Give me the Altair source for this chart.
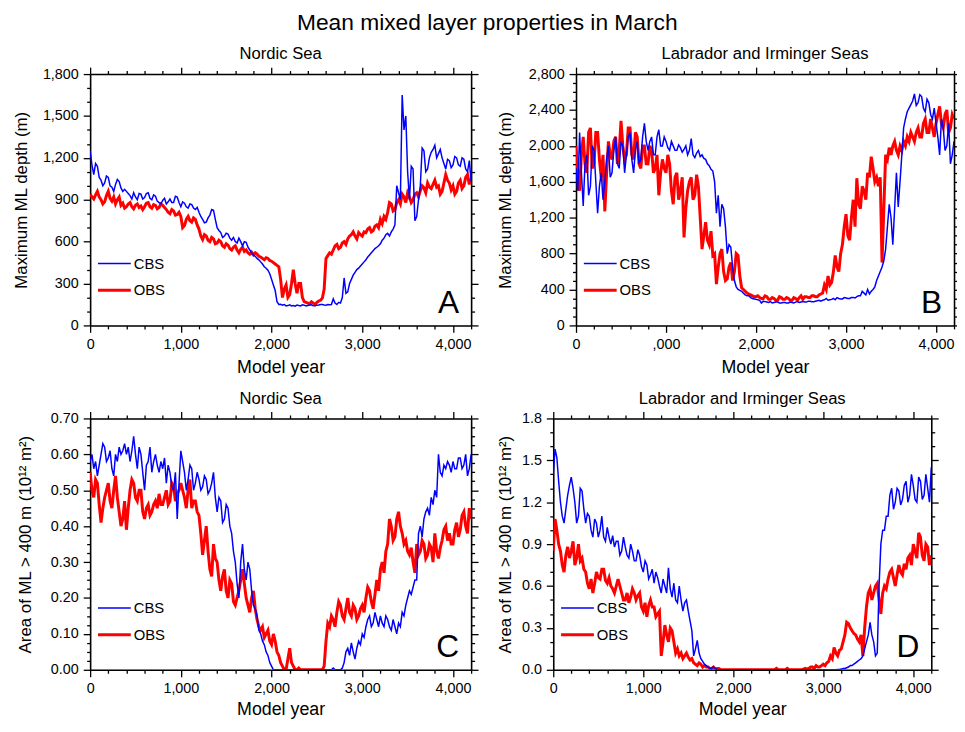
import altair as alt
import pandas as pd

FONT = "Liberation Sans"
WA, WB, H = 385, 382, 254

YEARS = list(range(0, 4201, 20))
SERIES = ["CBS", "OBS"]
COLORS = ["#0000ff", "#ff0000"]
LINE_WIDTHS = [1.5, 3.0]

SUPTITLE = "Mean mixed layer properties in March"
PANEL_TITLES = ["Nordic Sea", "Labrador and Irminger Seas", "Nordic Sea", "Labrador and Irminger Seas"]
Y_TITLES = ["Maximum ML depth (m)", "Maximum ML depth (m)",
            "Area of ML > 400 m (10¹² m²)", "Area of ML > 400 m (10¹² m²)"]
LETTERS = ["A", "B", "C", "D"]
X_TITLE = "Model year"
X_MAJOR = [0, 1000, 2000, 3000, 4000]
X_MINOR = [200, 400, 600, 800, 1200, 1400, 1600, 1800, 2200, 2400, 2600, 2800,
           3200, 3400, 3600, 3800, 4200]

# values every 20 model years, 0 .. 4200 (20 values per line = 400 years)
A_CBS = [1250, 1150, 1080, 1160, 1140, 1060, 1040, 1000, 1020, 1070, 1060, 1000, 990, 960, 1010, 1045, 1030, 985, 960, 975,
         960, 945, 930, 905, 950, 920, 900, 945, 940, 905, 915, 945, 950, 910, 900, 935, 925, 890, 880, 870,
         895, 910, 870, 885, 905, 880, 880, 925, 920, 880, 850, 885, 875, 850, 840, 870, 865, 840, 830, 845,
         810, 780, 760, 735, 740, 770, 790, 830, 825, 760, 700, 680, 665, 630, 640, 660, 655, 625, 610, 630,
         600, 590, 625, 600, 570, 600, 595, 560, 540, 520, 505, 495, 480, 470, 455, 440, 420, 410, 395, 370,
         330, 290, 250, 170, 150, 152, 145, 150, 140, 142, 148, 140, 142, 138, 146, 143, 140, 148, 145, 140,
         143, 146, 148, 140, 140, 145, 146, 150, 150, 146, 145, 150, 148, 150, 190, 160, 150, 165, 160, 200,
         340, 230, 240, 300, 330, 360, 380, 400, 410, 425, 440, 455, 470, 490, 505, 520, 535, 550, 560, 570,
         585, 610, 625, 650, 660, 640, 670, 690, 720, 1000, 950, 900, 1650, 1400, 1500, 1100, 900, 1140, 1120, 750,
         780, 900, 1000, 1270, 1250, 1100, 1120, 1200, 1240, 1260, 1290, 1200, 1230, 1260, 1200, 1160, 1120, 1190, 1180, 1130,
         1150, 1210, 1200, 1150, 1140, 1200, 1190, 1120, 1100, 1180, 1030]
A_OBS = [940, 920, 905, 935, 960, 920, 900, 870, 885, 930, 960, 910, 890, 920, 870, 900, 920, 860, 875, 840,
         850, 870, 880, 850, 835, 860, 870, 845, 855, 830, 850, 875, 880, 850, 840, 865, 860, 835, 845, 870,
         860, 845, 830, 810, 800, 830, 820, 790, 795, 810, 780, 700, 715, 760, 780, 750, 740, 770, 760, 720,
         690, 640, 615, 650, 640, 610, 600, 630, 620, 585, 590, 610, 600, 570, 560, 585, 575, 550, 540, 560,
         570, 540, 520, 545, 560, 530, 540, 520, 510, 525, 505, 520, 510, 495, 490, 480, 470, 485, 480, 465,
         460, 450, 440, 430, 420, 330, 200, 260, 290, 200, 220, 300, 400, 300, 230, 300, 300, 200, 170, 165,
         160, 155, 170, 160, 150, 165, 175, 180, 195, 260, 480, 500, 520, 510, 540, 570, 580, 550, 560, 590,
         600, 580, 620, 640, 650, 670, 640, 620, 665, 650, 640, 670, 665, 690, 700, 670, 680, 710, 720, 700,
         760, 730, 780, 760, 810, 880, 870, 820, 830, 880, 900, 870, 940, 920, 880, 950, 920, 880, 900, 940,
         950, 920, 965, 1000, 985, 950, 1020, 990, 980, 1010, 1040, 990, 1000, 940, 960, 1020, 1080, 1040, 1020, 970,
         1000, 940, 960, 1020, 1040, 980, 1000, 1060, 1080, 1010, 1050]
B_CBS = [1750, 1500, 2150, 1700, 1330, 1800, 1900, 1450, 1550, 2000, 1950, 1600, 1250, 1550, 1700, 1400, 1600, 1850, 2000, 1650,
         1700, 1950, 2100, 1800, 1750, 2050, 2000, 1700, 1900, 2100, 2150, 1850, 1700, 1950, 2050, 1800, 1850, 2100, 2250, 2050,
         1950, 2050, 2100, 1900, 1900, 2100, 2180, 2000, 2000, 2100, 2050, 1980, 1950, 2050, 2000, 1950, 1950, 2010, 1980, 1930,
         1960, 2000, 1900, 1950, 2080, 1900, 1870, 1920, 1950, 1880, 1900, 1860, 1850, 1800, 1780, 1740, 1720, 1600, 1250, 1450,
         1100, 1350, 1300, 1100, 800, 900, 870, 650, 500, 430, 400, 390, 380, 360, 340, 330, 330, 310, 300, 295,
         290, 285, 280, 250, 270, 265, 260, 255, 265, 250, 255, 260, 260, 250, 250, 255, 255, 250, 250, 260,
         255, 250, 260, 265, 255, 260, 265, 260, 260, 270, 270, 265, 265, 270, 275, 280, 270, 280, 285, 300,
         280, 285, 290, 300, 285, 310, 300, 295, 295, 310, 305, 300, 300, 310, 310, 305, 320, 330, 330, 380,
         360, 340, 400, 350, 380, 400, 430, 500, 550, 600, 650, 720, 850, 1100, 1350, 1200, 900, 1300, 1700, 1320,
         1600, 1900, 2200, 2300, 2380, 2420, 2460, 2500, 2580, 2450, 2480, 2570, 2550, 2420, 2380, 2520, 2480, 2350, 2300, 2420,
         2250, 2100, 1900, 2300, 2200, 1950, 2000, 2250, 1800, 1900, 2050]
B_OBS = [2000, 1700, 1500, 1900, 2100, 1800, 1700, 2150, 2200, 1750, 1800, 2150, 2150, 1850, 1650, 1900, 1270, 1700, 2050, 1900,
         1850, 2050, 2100, 1800, 1950, 2280, 2000, 1850, 1900, 2200, 2200, 1900, 1850, 2150, 2100, 1800, 1750, 2000, 2000, 1800,
         1800, 2000, 1950, 1700, 1750, 1900, 1450, 1700, 1850, 1750, 1700, 1900, 1800, 1500, 1350, 1650, 1700, 1400, 1500, 1650,
         980, 1300, 1500, 1600, 1650, 1400, 1450, 1680, 1550, 1200, 850, 1000, 1150, 950, 900, 1050, 780, 800, 460, 650,
         800, 850, 600, 500, 520, 650, 700, 500, 600, 800, 780, 550, 420, 400, 380, 360, 350, 340, 330, 320,
         320, 330, 310, 300, 300, 330, 320, 290, 290, 310, 300, 280, 280, 320, 310, 290, 290, 310, 300, 280,
         280, 310, 300, 280, 310, 330, 290, 320, 320, 310, 310, 330, 330, 320, 320, 340, 350, 360, 450, 400,
         550, 450, 480, 600, 780, 650, 600, 800, 900, 1100, 1240, 1000, 950, 1200, 1400, 1100, 1640, 1350, 1300, 1550,
         1500, 1400, 1700, 1650, 1880, 1750, 1600, 1650, 1550, 1650, 700, 1300, 1900, 1850, 1980, 1900, 2000, 2050, 1950, 1900,
         2000, 1950, 2050, 2000, 2100, 2050, 2150, 2100, 2050, 2150, 2200, 2100, 2100, 2250, 2300, 2150, 2150, 2300, 2200, 2100,
         2250, 2350, 2440, 2250, 2200, 2350, 2400, 2150, 2200, 2350, 2300]
C_CBS = [0.58, 0.60, 0.56, 0.58, 0.54, 0.57, 0.60, 0.63, 0.62, 0.58, 0.59, 0.61, 0.56, 0.54, 0.60, 0.58, 0.62, 0.60, 0.61, 0.63,
         0.60, 0.62, 0.58, 0.61, 0.65, 0.60, 0.56, 0.62, 0.60, 0.55, 0.50, 0.57, 0.58, 0.62, 0.55, 0.58, 0.60, 0.57, 0.55, 0.58,
         0.56, 0.59, 0.52, 0.57, 0.55, 0.51, 0.50, 0.55, 0.42, 0.52, 0.61, 0.58, 0.55, 0.50, 0.53, 0.57, 0.56, 0.50, 0.52, 0.55,
         0.53, 0.50, 0.51, 0.54, 0.53, 0.49, 0.50, 0.52, 0.55, 0.48, 0.44, 0.48, 0.47, 0.41, 0.42, 0.46, 0.45, 0.40, 0.38, 0.33,
         0.30, 0.24, 0.20, 0.30, 0.35, 0.28, 0.25, 0.30, 0.28, 0.22, 0.18, 0.17, 0.15, 0.11, 0.10, 0.08, 0.07, 0.05, 0.04, 0.02,
         0.01, 0.0, 0.0, 0.0, 0.0, 0.0, 0.0, 0.0, 0.0, 0.0, 0.0, 0.0, 0.0, 0.0, 0.0, 0.0, 0.0, 0.0, 0.0, 0.0,
         0.0, 0.0, 0.0, 0.0, 0.0, 0.0, 0.0, 0.0, 0.0, 0.0, 0.0, 0.0, 0.0, 0.0, 0.005, 0.0, 0.0, 0.0, 0.0, 0.005,
         0.02, 0.05, 0.06, 0.04, 0.075, 0.05, 0.03, 0.06, 0.08, 0.07, 0.10, 0.09, 0.12, 0.14, 0.15, 0.12, 0.13, 0.16, 0.14, 0.12,
         0.15, 0.13, 0.12, 0.15, 0.14, 0.12, 0.11, 0.14, 0.12, 0.10, 0.13, 0.12, 0.16, 0.15, 0.18, 0.20, 0.22, 0.21, 0.23, 0.25,
         0.25, 0.38, 0.40, 0.37, 0.42, 0.44, 0.45, 0.43, 0.48, 0.46, 0.50, 0.48, 0.60, 0.55, 0.54, 0.57, 0.56, 0.58, 0.57, 0.55,
         0.58, 0.56, 0.56, 0.59, 0.59, 0.56, 0.57, 0.60, 0.54, 0.56, 0.60]
C_OBS = [0.55, 0.50, 0.48, 0.53, 0.52, 0.46, 0.41, 0.45, 0.48, 0.50, 0.52, 0.47, 0.45, 0.50, 0.54, 0.48, 0.44, 0.40, 0.42, 0.47,
         0.39, 0.45, 0.50, 0.53, 0.52, 0.48, 0.47, 0.50, 0.50, 0.44, 0.42, 0.45, 0.46, 0.43, 0.44, 0.46, 0.47, 0.45, 0.49, 0.46,
         0.46, 0.48, 0.50, 0.46, 0.47, 0.52, 0.51, 0.47, 0.49, 0.50, 0.52, 0.50, 0.48, 0.45, 0.50, 0.53, 0.45, 0.47, 0.47, 0.44,
         0.43, 0.38, 0.32, 0.36, 0.40, 0.33, 0.28, 0.26, 0.35, 0.31, 0.30, 0.25, 0.22, 0.26, 0.28, 0.22, 0.20, 0.25, 0.24, 0.19,
         0.18, 0.20, 0.22, 0.25, 0.28, 0.24, 0.20, 0.18, 0.16, 0.20, 0.22, 0.17, 0.14, 0.12, 0.11, 0.12, 0.09, 0.10, 0.11, 0.08,
         0.07, 0.10, 0.08, 0.05, 0.04, 0.02, 0.01, 0.0, 0.0, 0.03, 0.06, 0.02, 0.01, 0.0, 0.0, 0.005, 0.0, 0.0, 0.0, 0.0,
         0.0, 0.0, 0.0, 0.0, 0.0, 0.0, 0.0, 0.0, 0.0, 0.01, 0.08, 0.13, 0.12, 0.15, 0.14, 0.12, 0.16, 0.19, 0.18, 0.15,
         0.14, 0.17, 0.20, 0.16, 0.15, 0.18, 0.17, 0.14, 0.15, 0.17, 0.18, 0.16, 0.20, 0.23, 0.22, 0.19, 0.17, 0.21, 0.25, 0.22,
         0.28, 0.30, 0.27, 0.33, 0.35, 0.42, 0.40, 0.36, 0.37, 0.42, 0.44, 0.40, 0.38, 0.35, 0.36, 0.33, 0.32, 0.34, 0.30, 0.27,
         0.35, 0.32, 0.33, 0.36, 0.35, 0.31, 0.32, 0.35, 0.34, 0.30, 0.38, 0.33, 0.31, 0.34, 0.36, 0.39, 0.40, 0.36, 0.38, 0.35,
         0.35, 0.39, 0.41, 0.37, 0.39, 0.43, 0.44, 0.40, 0.38, 0.45, 0.42]
D_CBS = [1.40, 1.58, 1.52, 1.35, 1.20, 1.10, 1.05, 1.15, 1.25, 1.32, 1.38, 1.30, 1.20, 1.05, 1.10, 1.30, 1.28, 1.15, 1.05, 1.12,
         1.10, 1.00, 0.95, 1.08, 1.05, 0.95, 1.00, 1.10, 0.95, 0.92, 1.02, 0.95, 0.90, 0.96, 0.88, 0.92, 0.92, 0.82, 0.85, 0.95,
         0.88, 0.82, 0.80, 0.90, 0.85, 0.78, 0.78, 0.86, 0.82, 0.74, 0.70, 0.78, 0.75, 0.65, 0.68, 0.72, 0.62, 0.70, 0.66, 0.60,
         0.55, 0.65, 0.60, 0.55, 0.73, 0.58, 0.52, 0.62, 0.50, 0.48, 0.60, 0.50, 0.42, 0.48, 0.50, 0.42, 0.35, 0.28, 0.10, 0.15,
         0.21, 0.12, 0.08, 0.06, 0.04, 0.03, 0.02, 0.01, 0.01, 0.02, 0.01, 0.0, 0.0, 0.0, 0.0, 0.0, 0.0, 0.0, 0.0, 0.0,
         0.0, 0.0, 0.0, 0.0, 0.0, 0.0, 0.0, 0.0, 0.0, 0.0, 0.0, 0.0, 0.0, 0.0, 0.0, 0.0, 0.0, 0.0, 0.0, 0.0,
         0.0, 0.0, 0.0, 0.0, 0.0, 0.0, 0.0, 0.0, 0.0, 0.0, 0.0, 0.0, 0.0, 0.0, 0.0, 0.0, 0.0, 0.0, 0.0, 0.0,
         0.0, 0.0, 0.0, 0.0, 0.0, 0.0, 0.0, 0.0, 0.0, 0.0, 0.0, 0.0, 0.0, 0.0, 0.0, 0.0, 0.0, 0.0, 0.002, 0.003,
         0.005, 0.01, 0.01, 0.015, 0.02, 0.03, 0.03, 0.04, 0.05, 0.06, 0.07, 0.08, 0.10, 0.15, 0.20, 0.25, 0.34, 0.25, 0.20, 0.10,
         0.12, 0.60, 0.90, 1.00, 1.00, 1.10, 1.10, 1.25, 1.30, 1.15, 1.20, 1.30, 1.28, 1.18, 1.22, 1.32, 1.35, 1.20, 1.25, 1.40,
         1.32, 1.22, 1.20, 1.38, 1.35, 1.22, 1.25, 1.40, 1.30, 1.20, 1.45]
D_OBS = [0.85, 1.08, 1.00, 0.90, 0.85, 0.75, 0.70, 0.82, 0.88, 0.80, 0.85, 0.92, 0.75, 0.80, 0.90, 0.78, 0.80, 0.72, 0.70, 0.62,
         0.58, 0.65, 0.55, 0.62, 0.70, 0.66, 0.65, 0.72, 0.72, 0.64, 0.62, 0.66, 0.60, 0.58, 0.55, 0.60, 0.65, 0.60, 0.55, 0.50,
         0.50, 0.55, 0.48, 0.52, 0.58, 0.55, 0.50, 0.53, 0.55, 0.45, 0.42, 0.48, 0.38, 0.46, 0.50, 0.45, 0.45, 0.38, 0.40, 0.42,
         0.10, 0.20, 0.32, 0.25, 0.20, 0.30, 0.28, 0.20, 0.12, 0.15, 0.10, 0.12, 0.08, 0.10, 0.12, 0.09, 0.07, 0.08, 0.05, 0.04,
         0.03, 0.05, 0.04, 0.02, 0.03, 0.02, 0.02, 0.01, 0.01, 0.02, 0.005, 0.01, 0.01, 0.0, 0.0, 0.0, 0.0, 0.0, 0.0, 0.0,
         0.0, 0.0, 0.0, 0.0, 0.0, 0.0, 0.0, 0.0, 0.0, 0.0, 0.0, 0.0, 0.0, 0.0, 0.0, 0.0, 0.0, 0.0, 0.0, 0.0,
         0.0, 0.0, 0.0, 0.0, 0.01, 0.0, 0.0, 0.0, 0.0, 0.0, 0.01, 0.0, 0.0, 0.0, 0.0, 0.0, 0.0, 0.0, 0.0, 0.005,
         0.01, 0.005, 0.01, 0.02, 0.02, 0.01, 0.03, 0.02, 0.02, 0.03, 0.04, 0.03, 0.05, 0.06, 0.10, 0.08, 0.16, 0.12, 0.10, 0.14,
         0.15, 0.20, 0.25, 0.34, 0.33, 0.30, 0.28, 0.26, 0.25, 0.22, 0.20, 0.25, 0.10, 0.30, 0.45, 0.55, 0.58, 0.50, 0.55, 0.60,
         0.62, 0.50, 0.40, 0.55, 0.60, 0.58, 0.65, 0.70, 0.72, 0.66, 0.60, 0.68, 0.75, 0.70, 0.68, 0.76, 0.72, 0.80, 0.82, 0.75,
         0.90, 0.85, 0.80, 0.98, 0.95, 0.82, 0.78, 0.90, 0.88, 0.75, 0.82]

A_YMAJ = [0, 300, 600, 900, 1200, 1500, 1800]
A_YMIN = [100, 200, 400, 500, 700, 800, 1000, 1100, 1300, 1400, 1600, 1700]
B_YMAJ = [0, 400, 800, 1200, 1600, 2000, 2400, 2800]
B_YMIN = [100, 200, 300, 500, 600, 700, 900, 1000, 1100, 1300, 1400, 1500,
          1700, 1800, 1900, 2100, 2200, 2300, 2500, 2600, 2700]
C_YMAJ = [0.0, 0.1, 0.2, 0.3, 0.4, 0.5, 0.6, 0.7]
C_YMIN = [0.025, 0.05, 0.075, 0.125, 0.15, 0.175, 0.225, 0.25, 0.275,
          0.325, 0.35, 0.375, 0.425, 0.45, 0.475, 0.525, 0.55, 0.575,
          0.625, 0.65, 0.675]
D_YMAJ = [0.0, 0.3, 0.6, 0.9, 1.2, 1.5, 1.8]
D_YMIN = [0.1, 0.2, 0.4, 0.5, 0.7, 0.8, 1.0, 1.1, 1.3, 1.4, 1.6, 1.7]


def axis(orient, values, size, labels=False, title=None, fmt=None, expr=None,
         domain=True, title_x=None, title_pad=8):
    kw = dict(orient=orient, values=values, tickSize=size, labels=labels, domain=domain,
              grid=False, ticks=True, tickColor="black", tickWidth=1.3,
              domainColor="black", domainWidth=1.6, labelFont=FONT, labelFontSize=14.5,
              labelColor="black", labelPadding=5, labelFlush=False, titleFont=FONT,
              titleFontWeight="normal", titleColor="black", title=title)
    if fmt:
        kw["format"] = fmt
    if expr:
        kw["labelExpr"] = expr
    if title is not None:
        if orient == "left":
            kw.update(titleFontSize=17, titleX=title_x, titleY=H / 2, titleAngle=270,
                      titleAlign="center", titleBaseline="alphabetic")
        else:
            kw.update(titleFontSize=18, titlePadding=title_pad)
    return alt.Axis(**kw)


def panel(cbs, obs, width, ymax, ymaj, ymin, yfmt, title, ytitle, letter, title_x,
          xpad, xexpr=None):
    n = len(YEARS)
    df = pd.DataFrame({"year": YEARS * 2, "value": cbs + obs,
                       "series": [SERIES[0]] * n + [SERIES[1]] * n})
    xs = alt.Scale(domain=[0, 4200], nice=False, zero=False)
    ys = alt.Scale(domain=[0, ymax], nice=False, zero=False)
    leg = alt.Legend(orient="none", legendX=6, legendY=174, title=None,
                     symbolType="stroke", symbolSize=1100, labelFont=FONT,
                     labelFontSize=15, labelColor="black", labelOffset=1,
                     rowPadding=0, padding=0)
    color = alt.Color("series:N", scale=alt.Scale(domain=SERIES, range=COLORS), legend=leg)
    sw = alt.StrokeWidth("series:N", scale=alt.Scale(domain=SERIES, range=LINE_WIDTHS), legend=leg)
    base = alt.Chart(df)
    red = base.transform_filter(alt.datum.series == SERIES[1]).mark_line(clip=True).encode(
        x=alt.X("year:Q", scale=xs,
                axis=axis("bottom", X_MAJOR, 7, labels=True, title=X_TITLE, fmt=",.0f",
                          expr=xexpr, title_pad=xpad)),
        y=alt.Y("value:Q", scale=ys,
                axis=axis("left", ymaj, 7, labels=True, title=ytitle, fmt=yfmt, title_x=title_x)),
        color=color, strokeWidth=sw)
    blue = base.transform_filter(alt.datum.series == SERIES[0]).mark_line(clip=True).encode(
        x=alt.X("year:Q", scale=xs, axis=axis("top", X_MAJOR, 7)),
        y=alt.Y("value:Q", scale=ys, axis=axis("right", ymaj, 7)),
        color=color, strokeWidth=sw)
    minor1 = base.mark_point(opacity=0, size=1).encode(
        x=alt.X("year:Q", scale=xs, axis=axis("bottom", X_MINOR, 3.5, domain=False)),
        y=alt.Y("value:Q", scale=ys, axis=axis("left", ymin, 3.5, domain=False)))
    minor2 = base.mark_point(opacity=0, size=1).encode(
        x=alt.X("year:Q", scale=xs, axis=axis("top", X_MINOR, 3.5, domain=False)),
        y=alt.Y("value:Q", scale=ys, axis=axis("right", ymin, 3.5, domain=False)))
    lab = alt.Chart(pd.DataFrame({"t": [letter]})).mark_text(
        align="right", baseline="alphabetic", fontSize=32, font=FONT, color="black"
    ).encode(text="t:N", x=alt.value(width - 12), y=alt.value(H - 13))
    return alt.layer(red, blue, minor1, minor2, lab).resolve_axis(
        x="independent", y="independent").properties(
        width=width, height=H,
        title=alt.TitleParams(title, font=FONT, fontSize=16.8, fontWeight="normal",
                              color="black", anchor="middle", offset=3))


pA = panel(A_CBS, A_OBS, WA, 1800, A_YMAJ, A_YMIN, ",.0f", PANEL_TITLES[0], Y_TITLES[0], LETTERS[0], -64, 8)
pB = panel(B_CBS, B_OBS, WB, 2800, B_YMAJ, B_YMIN, ",.0f", PANEL_TITLES[1], Y_TITLES[1], LETTERS[1], -66.5, 8,
           xexpr="datum.value == 1000 ? ',000' : format(datum.value, ',')")
pC = panel(C_CBS, C_OBS, WA, 0.7, C_YMAJ, C_YMIN, ".2f", PANEL_TITLES[2], Y_TITLES[2], LETTERS[2], -60, 6)
pD = panel(D_CBS, D_OBS, WB, 1.8, D_YMAJ, D_YMIN, ".1f", PANEL_TITLES[3], Y_TITLES[3], LETTERS[3], -43, 6)

RES = dict(x="independent", y="independent", color="independent", strokeWidth="independent")
LRES = dict(color="independent", strokeWidth="independent")
row1 = alt.hconcat(pA, pB, spacing=16).resolve_scale(**RES).resolve_legend(**LRES)
row2 = alt.hconcat(pC, pD, spacing=16).resolve_scale(**RES).resolve_legend(**LRES)
chart = alt.vconcat(row1, row2, spacing=13).resolve_scale(**RES).resolve_legend(**LRES).properties(
    title=alt.TitleParams(SUPTITLE, font=FONT, fontSize=23, fontWeight="normal",
                          color="black", anchor="middle", offset=11),
    padding={"left": 4, "top": 0, "right": -6, "bottom": 0}
).configure_view(stroke=None).configure(background="white")

chart.save("out.html", embed_options={"renderer": "svg", "actions": False})
